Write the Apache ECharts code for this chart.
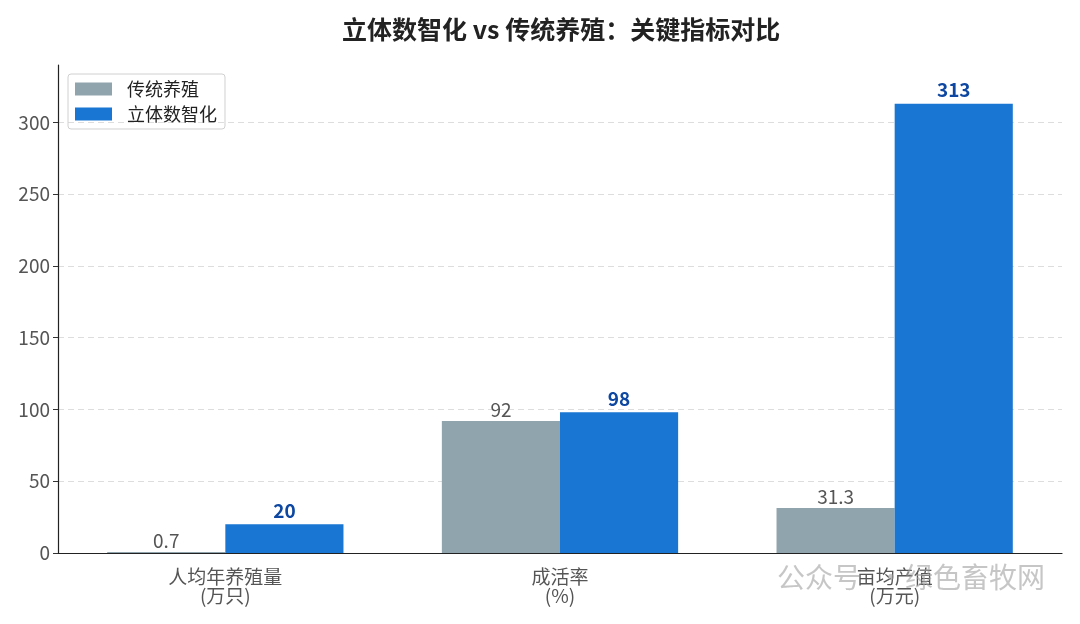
<!DOCTYPE html>
<html><head><meta charset="utf-8">
<script src="https://cdn.jsdelivr.net/npm/echarts@6/dist/echarts.min.js"></script>
<style>html,body{margin:0;padding:0;background:#fff}#c{width:1080px;height:624px}</style>
</head><body><div id="c"></div>
<script>
const categories = ['人均年养殖量\n(万只)', '成活率\n(%)', '亩均产值\n(万元)'];
const traditional = [0.7, 92, 31.3];
const smart = [20, 98, 313];
const seriesNames = ['传统养殖', '立体数智化'];
const yTicks = [0, 50, 100, 150, 200, 250, 300];
const titleText = '立体数智化 vs 传统养殖：关键指标对比';

const FONT = '"Noto Sans CJK SC", "Noto Sans", sans-serif';
const chart = echarts.init(document.getElementById('c'));
chart.setOption({
  animation: false,
  textStyle: { fontFamily: FONT },
  title: {
    text: titleText, left: 337, top: 12,
    textStyle: { fontFamily: FONT, fontSize: 25, fontWeight: 'bold', color: '#222' }
  },
  legend: {
    orient: 'vertical', left: 68, top: 74,
    icon: 'rect',
    itemWidth: 37, itemHeight: 13, itemGap: 7,
    padding: [6, 8, 6, 7],
    borderColor: '#d0d0d0', borderWidth: 1, borderRadius: 3,
    textStyle: { fontFamily: FONT, fontSize: 18, color: '#222', padding: [0, 0, 0, 10] },
    data: seriesNames
  },
  grid: { left: 58, right: 18, top: 65, bottom: 71 },
  xAxis: {
    type: 'category', data: categories,
    axisLine: { lineStyle: { color: '#222', width: 1.2 } },
    axisTick: { alignWithLabel: true, length: 5, lineStyle: { color: '#333' } },
    axisLabel: { fontFamily: FONT, fontSize: 19, color: '#555', lineHeight: 19, margin: 14 }
  },
  yAxis: {
    type: 'value', min: 0, max: 340, interval: 50,
    axisLine: { show: true, lineStyle: { color: '#222', width: 1.2 } },
    axisTick: { show: true, length: 5, lineStyle: { color: '#333' }, customValues: yTicks },
    axisLabel: {
      fontFamily: FONT, fontSize: 19, color: '#555', margin: 8, customValues: yTicks
    },
    splitLine: { show: true, lineStyle: { color: '#dddddd', type: [6, 4], width: 1 } }
  },
  series: [
    {
      name: seriesNames[0], type: 'bar', data: traditional,
      barWidth: '35.3%', barGap: '0%',
      itemStyle: { color: '#90A4AE' },
      label: { show: true, position: 'top', distance: 2, fontFamily: FONT, fontSize: 19, color: '#555' }
    },
    {
      name: seriesNames[1], type: 'bar', data: smart,
      barWidth: '35.3%', barGap: '0%',
      itemStyle: { color: '#1976D2' },
      label: { show: true, position: 'top', distance: 4, fontFamily: FONT, fontSize: 19, fontWeight: 'bold', color: '#0D47A1' }
    }
  ],
  graphic: [
    {
      type: 'text', left: 777, top: 563, silent: true, z: 100,
      style: { text: '公众号', fontFamily: FONT, fontSize: 28, fill: 'rgba(160,160,160,0.6)' }
    },
    {
      type: 'text', right: 35, top: 563, silent: true, z: 100,
      style: { text: '·绿色畜牧网', fontFamily: FONT, fontSize: 28, fill: 'rgba(160,160,160,0.6)' }
    }
  ]
});
</script></body></html>
